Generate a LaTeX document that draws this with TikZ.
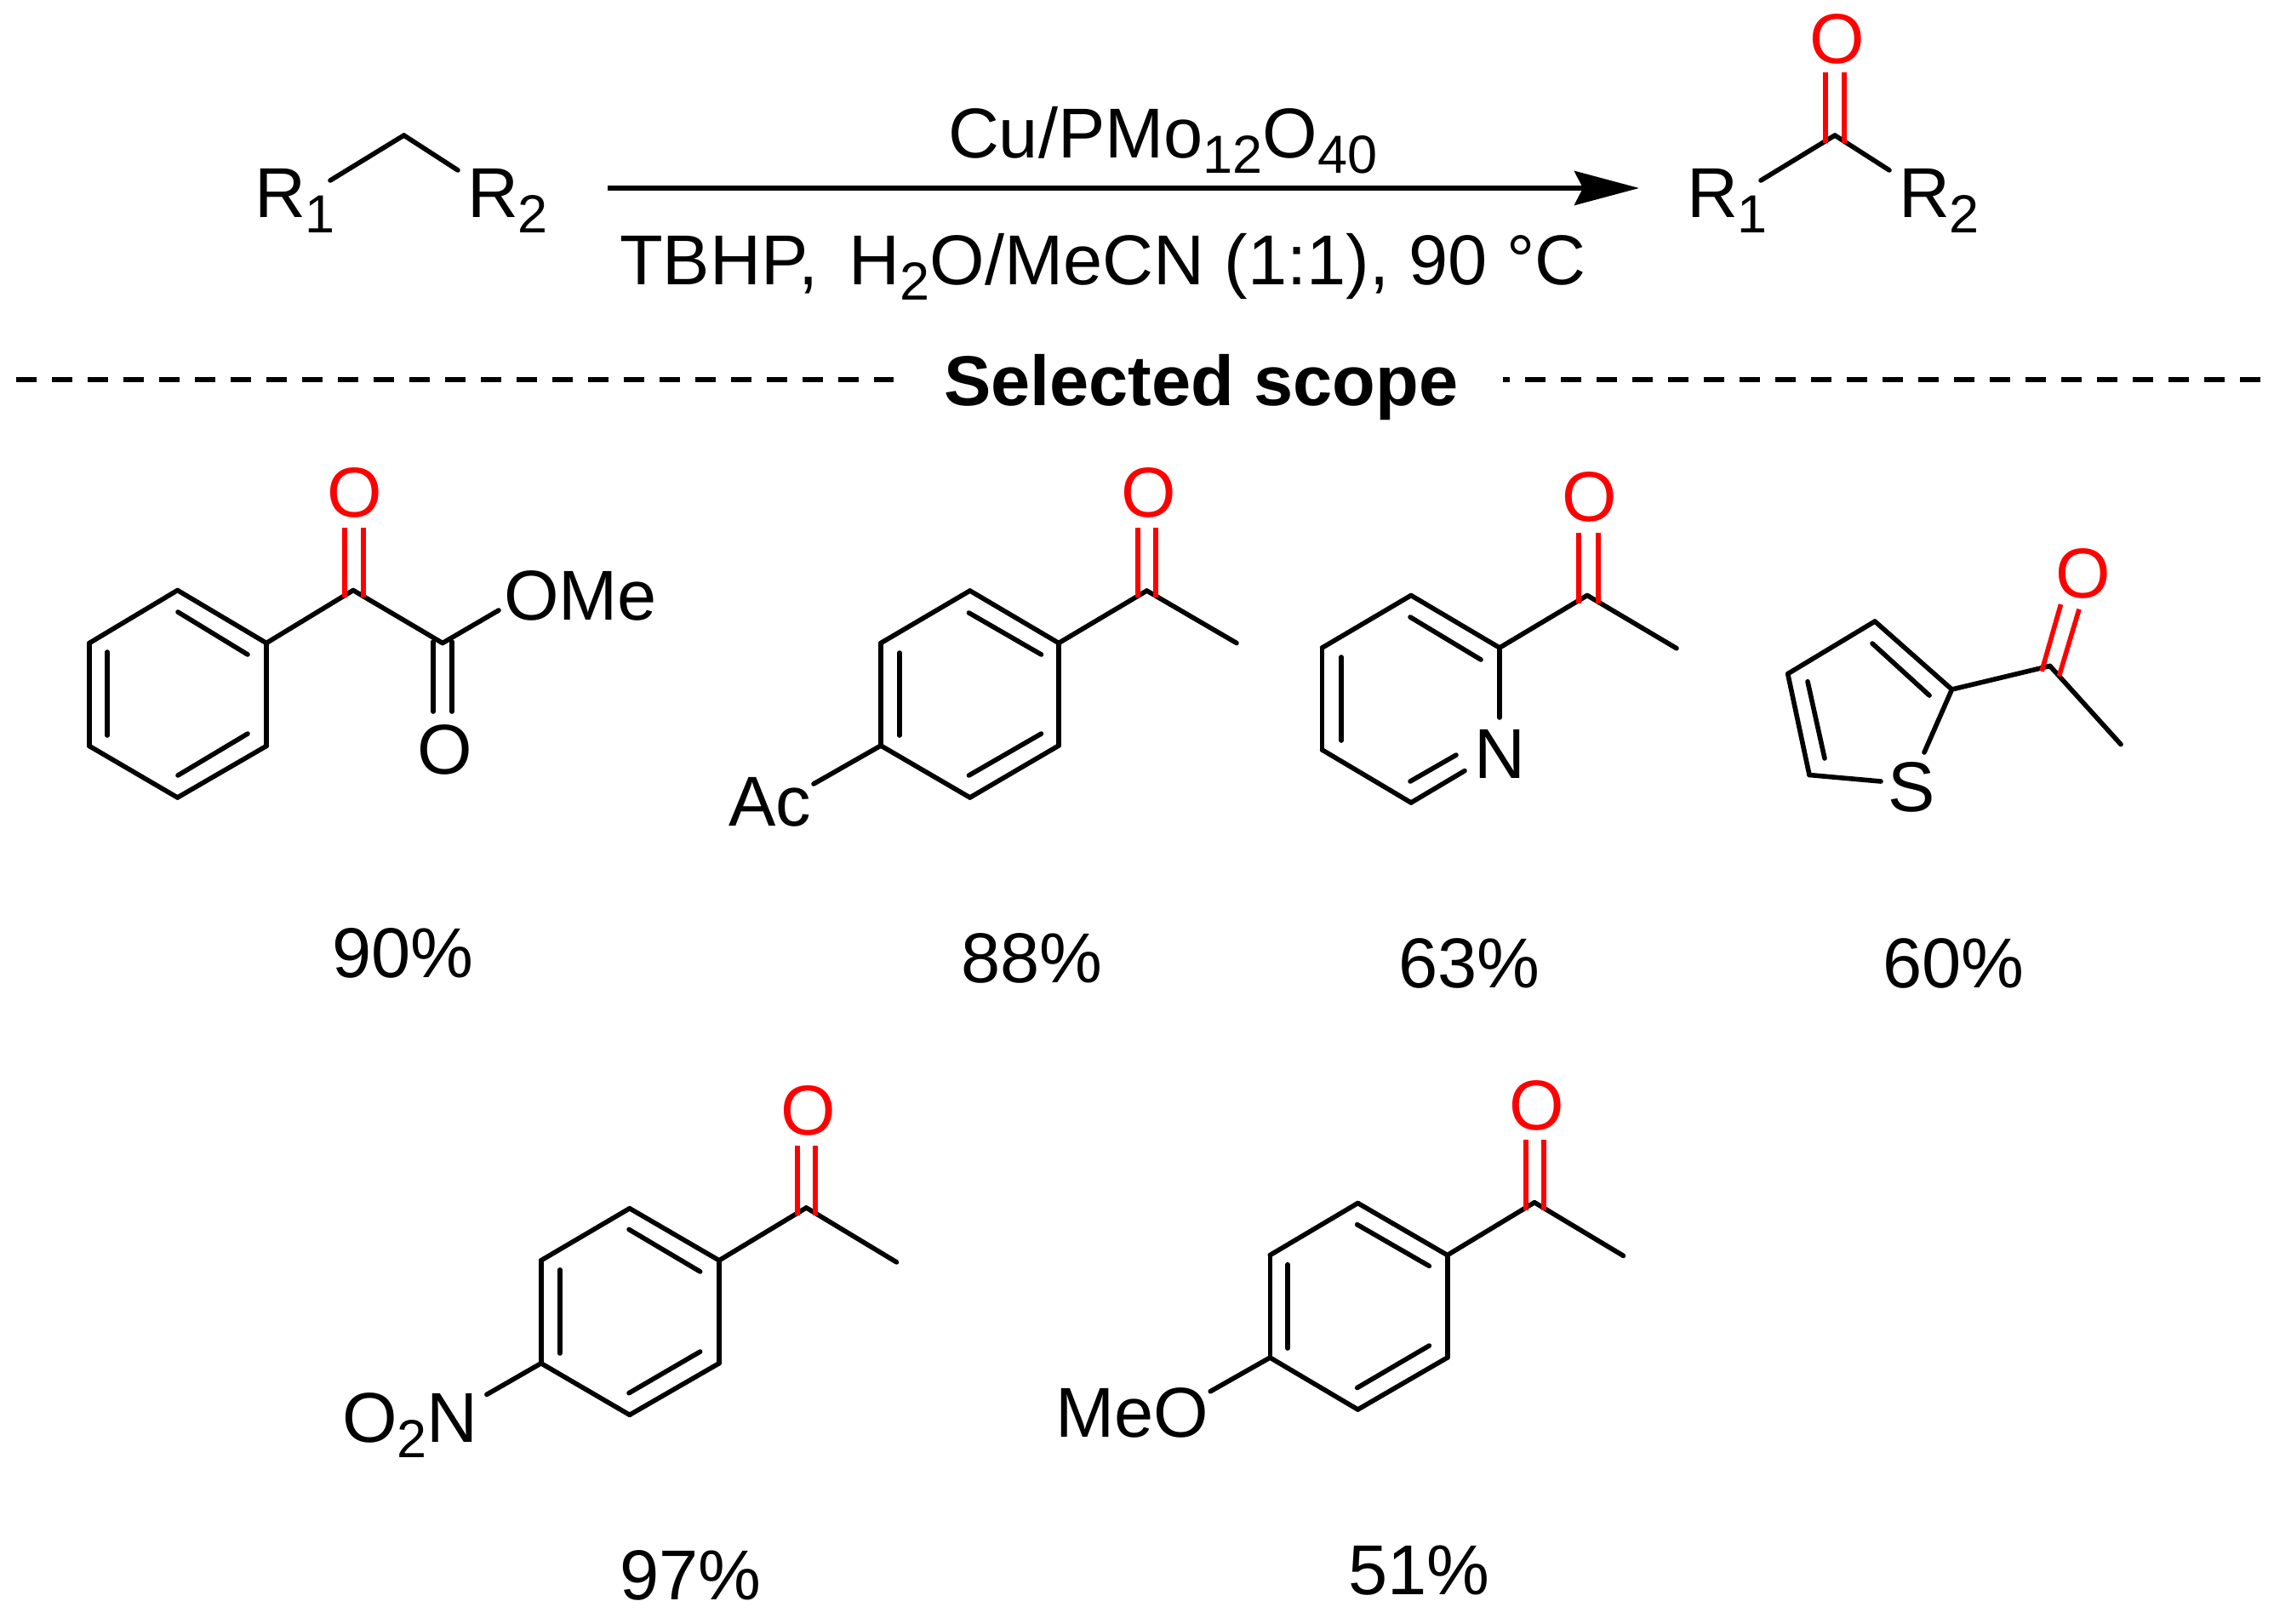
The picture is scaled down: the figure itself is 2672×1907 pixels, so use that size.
\documentclass[tikz,border=0pt]{standalone}
\usepackage{fontspec}
\setmainfont{Liberation Sans}
\usetikzlibrary{arrows.meta}
\newcommand{\lowsub}[1]{\raisebox{-9pt}{\fontsize{31.5}{31.5}\selectfont #1}}
\begin{document}
\begin{tikzpicture}
[x=0.5pt,y=-0.5pt,
  labeldecorate/.style={font=\fontsize{41.5}{46}\selectfont,inner sep=0pt,outer sep=0pt,anchor=base west},%
  bonddecorate/.style={-,line width=2.8pt,line cap=round,line join=round},%
  oxobond/.style={bonddecorate,red,line cap=butt},%
  dashdecorate/.style={line width=2.7pt,dash pattern=on 12pt off 9pt},%
  arrowdecorate/.style={-{Stealth[length=38pt,width=20pt,inset=5pt]},line width=3pt}]
\useasboundingbox (0,0) rectangle (2672,1907);
%% bond ends and ring vertices
\foreach \nodename/\x/\y in {
  r1/388/212, r2/474.6/159, r3/538/200,
  p1/2069/212, p2/2156/159, p3/2220/200, p4/2145/85, p5/2145/168, p6/2167/85, p7/2167/168,
  go/714/221, stop/1926/221, la/19/446, lb/1050/446, ra/1766/446, rb/2672/446,
  % phenyl glyoxylate
  a1/208.6/693.5, a2/313/755.5, a3/313/876.5, a4/208.6/937, a5/105/876.5, a6/105/755.5,
  a7/415/693.5, a8/520/755.5, a9/586/717, a10/209/719, a11/291/769, a12/126/766,
  a13/126/864, a14/291/862, a15/209/911, a16/405/619.5, a17/405/702, a18/427/619.5,
  a19/427/702, a20/509/754, a21/509/836, a22/531/754, a23/531/836,
  % diacetylbenzene
  b1/1139.7/694, b2/1244/755.5, b3/1244/876, b4/1139.7/937, b5/1035/876, b6/1035/755.5,
  b7/1347.5/694, b8/1453/755.5, b9/956/921, b10/1138.5/720, b11/1223.5/769, b12/1057/767,
  b13/1057/864, b14/1223.5/862, b15/1138.5/911, b16/1337/619.5, b17/1337/702, b18/1358/619.5,
  b19/1358/702,
  % acetylpyridine
  c1/1658/699.5, c2/1762/761, c3/1762/843, c4/1721/905.6, c5/1658/943, c6/1553.6/881,
  c7/1553.6/761, c8/1865/699.5, c9/1970/761.7, c10/1657/725, c11/1740/775, c12/1576/772,
  c13/1576/870, c14/1711/887, c15/1657/918, c16/1855/626, c17/1855/708.6, c18/1877.7/626,
  c19/1877.7/708.6,
  % acetylthiophene
  d1/2203/730, d2/2100.7/791.6, d3/2126/910.5, d4/2210/918, d5/2261/884, d6/2293.5/810,
  d7/2408.7/782.4, d8/2492/874.5, d9/2200/756, d10/2267/817, d11/2124/800.7, d12/2144/891,
  d13/2421.5/710, d14/2399/788.7, d15/2443/715.7, d16/2419.4/794.5,
  % nitroacetophenone
  e1/739.8/1419.7, e2/845/1480.8, e3/845/1601.7, e4/739.8/1662.3, e5/635.8/1601.7, e6/635.8/1480.8,
  e7/947.4/1418.9, e8/1053.5/1482.9, e9/571.9/1638.4, e10/739/1444.4, e11/822.7/1494, e12/657.7/1491.9,
  e13/657.7/1590, e14/822.7/1588, e15/739/1636.7, e16/937/1345.8, e17/937/1428, e18/957.7/1345.8,
  e19/957.7/1428,
  % methoxyacetophenone
  f1/1595.5/1413.5, f2/1700.7/1474.6, f3/1700.7/1595, f4/1595.5/1656, f5/1492.3/1595, f6/1492.3/1474.6,
  f7/1803/1412.7, f8/1907.5/1475.4, f9/1422.2/1634.7, f10/1594.7/1438.7, f11/1679.3/1487.4, f12/1513/1485.7,
  f13/1513/1584, f14/1679.3/1581, f15/1594.7/1630.5, f16/1792.7/1339, f17/1792.7/1421.7, f18/1813.8/1339,
  f19/1813.8/1421.7} {
  \coordinate (\nodename) at (\x,\y);
}
%% atoms and captions
\foreach \nodename/\x/\y/\labeltext in {
  lr1/299/255/R\lowsub{1}, lr2/549/255/R\lowsub{2}, lp1/1982/255/R\lowsub{1}, lp2/2231/255/R\lowsub{2},
  catalyst/1114/185/{Cu/PMo\lowsub{12}O\lowsub{40}},
  oxidant/728/334.5/{TBHP,\hspace{18pt}H\lowsub{2}O/MeCN (1:1), 90 °C},
  oa/490/909/O, ome/592/728.5/OMe, ac/856/970/Ac, nc/1732/914/N, sd/2218/953/S,
  nitro/402/1694.5/O\lowsub{2}N, meo/1240/1688.3/MeO,
  ya/390/1148/90\%, yb/1129/1154/88\%, yc/1643/1160/63\%, yd/2212/1160/60\%,
  ye/728/1879/97\%, yf/1584/1873.6/51\%} {
  \node (\nodename) at (\x,\y) [labeldecorate] {\labeltext};
}
\node (scope) at (1109,476) [labeldecorate,font=\fontsize{41.5}{46}\selectfont\bfseries] {Selected scope};
%% red oxygens
\foreach \nodename/\x/\y in {op/2126/74, ob/384/607, oc/1317.5/607, od/1835/612.5, oe/2415.5/702.5, of/917.5/1333.5, og/1773/1327} {
  \node (\nodename) at (\x,\y) [labeldecorate,red] {O};
}
%% arrow and dashes
\draw[arrowdecorate] (go) -- (stop);
\draw[dashdecorate] (la) -- (lb);
\draw[dashdecorate,dash phase=8pt] (ra) -- (rb);
%% bonds
\path
\foreach \startnode/\endnode in {r1/r2, r2/r3, p1/p2, p2/p3,
  a1/a2, a2/a3, a3/a4, a4/a5, a5/a6, a6/a1, a2/a7, a7/a8, a8/a9, a10/a11, a12/a13, a14/a15, a20/a21, a22/a23,
  b1/b2, b2/b3, b3/b4, b4/b5, b5/b6, b6/b1, b2/b7, b7/b8, b5/b9, b10/b11, b12/b13, b14/b15,
  c1/c2, c2/c3, c4/c5, c5/c6, c6/c7, c7/c1, c2/c8, c8/c9, c10/c11, c12/c13, c14/c15,
  d1/d2, d2/d3, d3/d4, d5/d6, d6/d1, d6/d7, d7/d8, d9/d10, d11/d12,
  e1/e2, e2/e3, e3/e4, e4/e5, e5/e6, e6/e1, e2/e7, e7/e8, e5/e9, e10/e11, e12/e13, e14/e15,
  f1/f2, f2/f3, f3/f4, f4/f5, f5/f6, f6/f1, f2/f7, f7/f8, f5/f9, f10/f11, f12/f13, f14/f15} {
  (\startnode) edge[bonddecorate] (\endnode)
};
%% carbonyl bonds
\path
\foreach \startnode/\endnode in {p4/p5, p6/p7, a16/a17, a18/a19, b16/b17, b18/b19, c16/c17, c18/c19,
  d13/d14, d15/d16, e16/e17, e18/e19, f16/f17, f18/f19} {
  (\startnode) edge[oxobond] (\endnode)
};
\end{tikzpicture}
\end{document}
